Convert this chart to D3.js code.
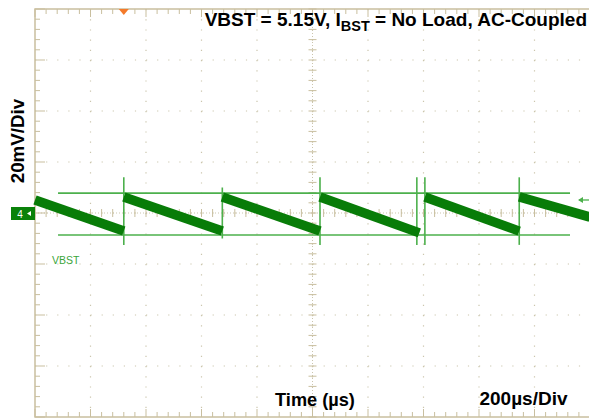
<!DOCTYPE html>
<html><head><meta charset="utf-8">
<script src="https://cdn.jsdelivr.net/npm/d3@7"></script>
<style>body{margin:0;background:#fff}svg{display:block}</style>
</head><body>
<svg id="c" width="589" height="419"></svg>
<script>
// ---- data ----
const timeDivs = [0,200,400,600,800,1000,1200,1400,1600,1800,2000];      // µs
const voltDivs = [-80,-60,-40,-20,0,20,40,60,80];                       // mV (AC coupled)
const rampStartT = [0, 320, 675, 1027, 1405, 1745];
const rampEndT   = [320, 675, 1027, 1385, 1745, 2000];
const rampStartV = [5.1, 6.3, 6.3, 6.3, 6.3, 6.3];
const rampEndV   = [-7.1, -7.1, -7.1, -7.8, -7.1, -1.6];
const edgeT      = [320, 675, 1027, 1376, 1405, 1745];
const edgeTopV   = [14, 10, 14, 14, 14, 14];
const edgeBotV   = [-12.5, -10, -12.5, -12.5, -12.5, -12.5];
const cursorV    = [7.8, -8.6];
const cursorT    = [83, 1928];

const svg = d3.select("#c");
const x = d3.scaleLinear().domain([0,2000]).range([35,590]);
const y = d3.scaleLinear().domain([-80,80]).range([417,9]);

const tan = "#c9bf9f", dot = "#cbc5ad";
const g = svg.append("g");

// dotted grid
g.selectAll(".vg").data(timeDivs.slice(1,-1)).join("line")
  .attr("x1",d=>x(d)).attr("x2",d=>x(d)).attr("y1",y(80)).attr("y2",y(-80))
  .attr("stroke",dot).attr("stroke-width",1.2).attr("stroke-dasharray","1.2,9");
g.selectAll(".hg").data(voltDivs.slice(1,-1)).join("line")
  .attr("x1",x(0)).attr("x2",x(2000)).attr("y1",d=>y(d)).attr("y2",d=>y(d))
  .attr("stroke",dot).attr("stroke-width",1.2).attr("stroke-dasharray","1.2,9.9");

// minor tick positions
const minorT = d3.range(0,2001,40), minorV = d3.range(-80,81,4);
// center axes
g.append("line").attr("x1",x(0)).attr("x2",x(2000)).attr("y1",y(0)).attr("y2",y(0)).attr("stroke",dot).attr("stroke-dasharray","1,2");
g.append("line").attr("x1",x(1000)).attr("x2",x(1000)).attr("y1",y(80)).attr("y2",y(-80)).attr("stroke",dot).attr("stroke-dasharray","1,2");
g.selectAll(".cmt").data(minorT).join("line")
  .attr("x1",d=>x(d)).attr("x2",d=>x(d)).attr("y1",y(0)-4).attr("y2",y(0)+4).attr("stroke",tan);
g.selectAll(".cmv").data(minorV).join("line")
  .attr("y1",d=>y(d)).attr("y2",d=>y(d)).attr("x1",x(1000)-4).attr("x2",x(1000)+4).attr("stroke",tan);

// border ticks
g.selectAll(".bt").data(minorT).join("line")
  .attr("x1",d=>x(d)).attr("x2",d=>x(d)).attr("y1",y(80)).attr("y2",d=>y(80)+(d%200===0?8:5)).attr("stroke",tan);
g.selectAll(".bb").data(minorT).join("line")
  .attr("x1",d=>x(d)).attr("x2",d=>x(d)).attr("y1",y(-80)).attr("y2",d=>y(-80)-(d%200===0?8:5)).attr("stroke",tan);
g.selectAll(".bl").data(minorV).join("line")
  .attr("y1",d=>y(d)).attr("y2",d=>y(d)).attr("x1",x(0)).attr("x2",d=>x(0)+(d%20===0?10:5)).attr("stroke",tan);
g.append("rect").attr("x",x(0)).attr("y",y(80)).attr("width",x(2000)-x(0)).attr("height",y(-80)-y(80))
  .attr("fill","none").attr("stroke",tan).attr("stroke-width",1.5);

// trigger position marker
g.append("path").attr("d",`M${x(320)-5},${y(80)} L${x(320)+5},${y(80)} L${x(320)},${y(80)+6} Z`).attr("fill","#f47a2a");

// cursors
const lg = "#4cb04c";
g.selectAll(".cur").data(cursorV).join("line")
  .attr("x1",x(cursorT[0])).attr("x2",x(cursorT[1])).attr("y1",d=>y(d)).attr("y2",d=>y(d))
  .attr("stroke",lg).attr("stroke-width",1.6);

// edges
g.selectAll(".edge").data(edgeT).join("line")
  .attr("x1",d=>x(d)).attr("x2",d=>x(d)).attr("y1",(d,i)=>y(edgeTopV[i])).attr("y2",(d,i)=>y(edgeBotV[i]))
  .attr("stroke",lg).attr("stroke-width",1.6);

// ramps
g.selectAll(".ramp").data(rampStartT).join("line")
  .attr("x1",d=>x(d)).attr("x2",(d,i)=>x(rampEndT[i]))
  .attr("y1",(d,i)=>y(rampStartV[i])).attr("y2",(d,i)=>y(rampEndV[i]))
  .attr("stroke","#087c08").attr("stroke-width",9.5);

// right arrow
g.append("line").attr("x1",579).attr("x2",589).attr("y1",y(5.1)).attr("y2",y(5.1)).attr("stroke",lg).attr("stroke-width",1.3);
g.append("path").attr("d",`M578,${y(5.1)} l5,-3 l0,6 Z`).attr("fill",lg);

// channel marker
svg.append("rect").attr("x",11).attr("y",207).attr("width",24).attr("height",13).attr("fill","#0a820a");
svg.append("text").attr("x",20).attr("y",217.5).attr("fill","#fff").attr("font-family","Liberation Sans, Arial").attr("font-size",10).attr("text-anchor","middle").text("4");
svg.append("path").attr("d","M27,213.5 l4,-2.5 l0,5 Z").attr("fill","#fff");

svg.append("text").attr("x",52).attr("y",264).attr("fill","#3aa53a").attr("font-family","Liberation Sans, Arial").attr("font-size",10.5).text("VBST");

// labels
const f = "Liberation Sans, Arial, sans-serif";
const t = svg.append("text").attr("x",587).attr("y",26).attr("text-anchor","end").attr("font-family",f)
  .attr("font-weight","bold").attr("font-size",19).attr("fill","#000");
t.append("tspan").text("VBST = 5.15V, I");
t.append("tspan").attr("font-size",14.5).attr("dy",4.5).text("BST");
t.append("tspan").attr("dy",-4.5).text(" = No Load, AC-Coupled");

svg.append("text").attr("transform","translate(24,141) rotate(-90)").attr("text-anchor","middle")
  .attr("font-family",f).attr("font-weight","bold").attr("font-size",18.8).text("20mV/Div");
svg.append("text").attr("x",315).attr("y",406).attr("text-anchor","middle")
  .attr("font-family",f).attr("font-weight","bold").attr("font-size",18.2).text("Time (µs)");
svg.append("text").attr("x",523.5).attr("y",405).attr("text-anchor","middle")
  .attr("font-family",f).attr("font-weight","bold").attr("font-size",19).text("200µs/Div");
</script>
</body></html>
